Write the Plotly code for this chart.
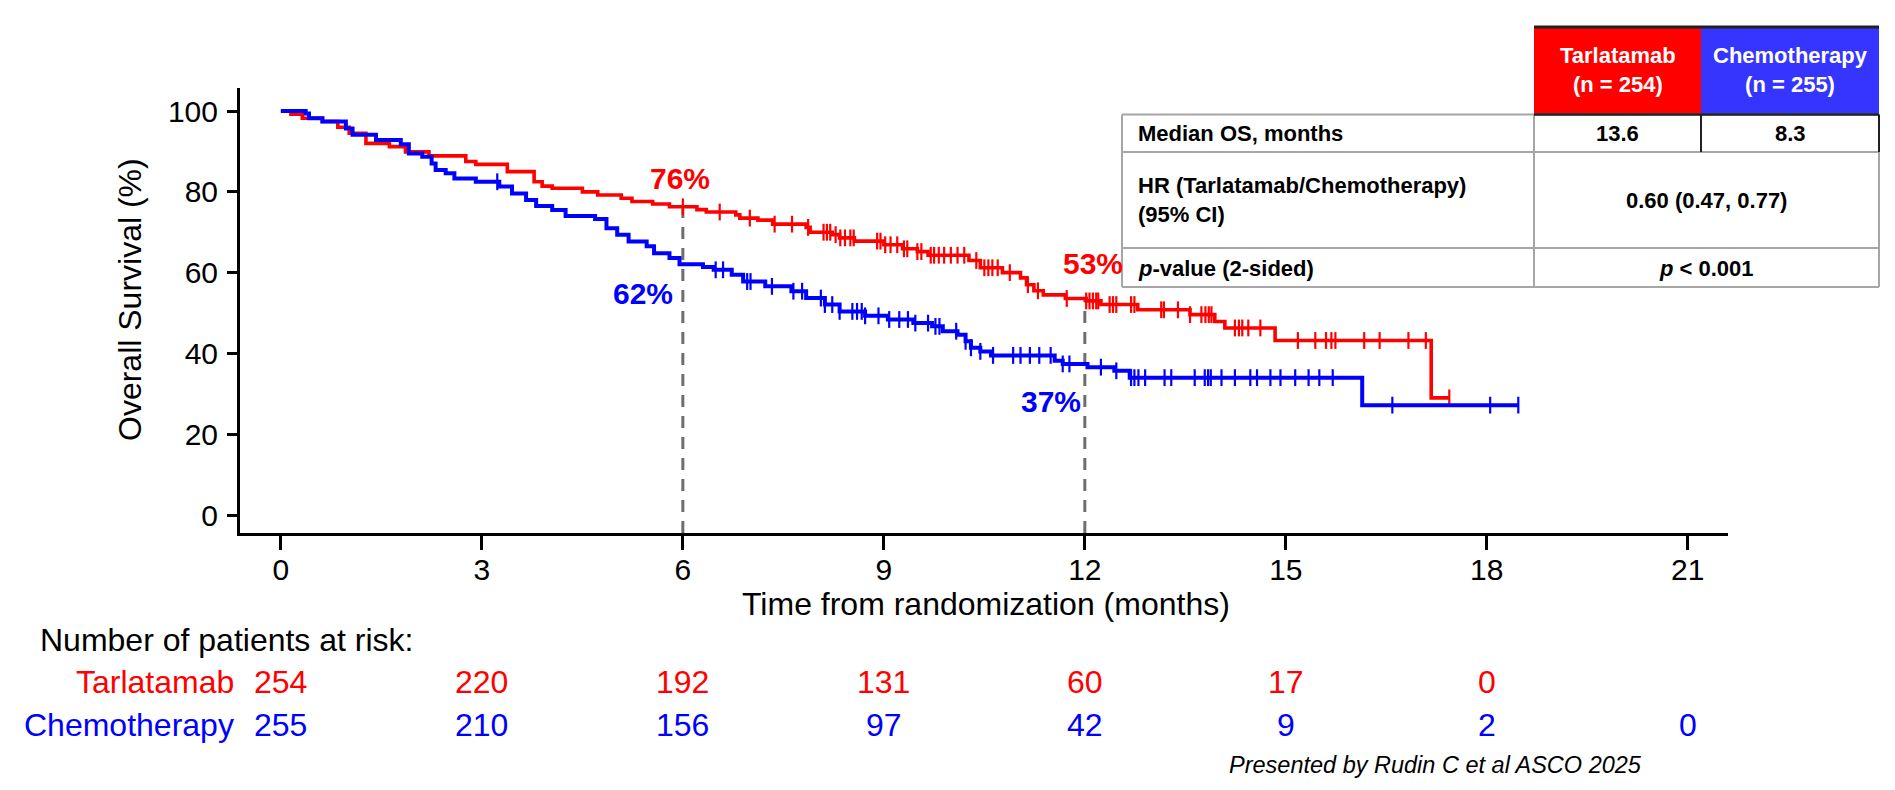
import plotly.graph_objects as go

# ---------------- data ----------------
tarla_t = [0, 0.15, 0.32, 0.62, 0.85, 1.02, 1.27, 1.62, 1.86, 2.21, 2.76, 2.91, 3.38, 3.78, 3.90,
           4.05, 4.50, 4.73, 5.08, 5.24, 5.55, 5.80, 6.21, 6.35, 6.79, 6.85, 7.12, 7.34, 7.84,
           7.90, 8.23, 8.34, 8.56, 9.00, 9.28, 9.50, 9.66, 10.27, 10.44, 10.77, 11.04, 11.13,
           11.24, 11.38, 11.71, 12.02, 12.24, 12.79, 13.57, 13.94, 14.09, 14.84, 17.17, 17.44]
tarla_s = [100, 99.2, 98.2, 97.4, 96.0, 94.5, 92.0, 91.2, 89.9, 88.9, 87.5, 86.8, 85.0, 82.5, 81.4,
           80.9, 80.0, 79.2, 78.4, 77.6, 77.0, 76.3, 75.6, 75.0, 74.3, 73.5, 73.0, 72.0, 71.2,
           70.0, 69.4, 68.6, 67.8, 66.9, 65.9, 65.2, 64.3, 63.0, 61.2, 60.0, 58.7, 57.0,
           55.5, 54.5, 53.6, 53.0, 52.1, 50.8, 49.6, 47.9, 46.3, 43.2, 29.0, 29.0]
tarla_cens = [6.0, 6.55, 7.0, 7.37, 7.63, 7.87, 8.1, 8.15, 8.2, 8.28, 8.35, 8.42, 8.5, 8.55, 8.9,
              8.95, 9.02, 9.1, 9.2, 9.3, 9.35, 9.5, 9.56, 9.7, 9.75, 9.82, 9.9, 10.0, 10.1, 10.2,
              10.38, 10.5, 10.56, 10.62, 10.7, 10.88, 11.15, 11.3, 11.73, 12.02, 12.07, 12.12,
              12.17, 12.2, 12.37, 12.42, 12.47, 12.69, 12.74, 13.14, 13.18, 13.39, 13.57, 13.74,
              13.8, 13.85, 13.89, 14.24, 14.3, 14.35, 14.44, 14.62, 15.18, 15.44, 15.6, 15.68,
              15.74, 16.17, 16.4, 16.83, 17.09, 17.44]

chemo_t = [0, 0.37, 0.42, 0.62, 0.97, 1.07, 1.42, 1.79, 1.91, 2.11, 2.25, 2.31, 2.46, 2.59, 2.91,
           3.26, 3.45, 3.66, 3.81, 4.05, 4.25, 4.69, 4.86, 5.02, 5.19, 5.46, 5.57, 5.80, 5.95,
           6.30, 6.46, 6.73, 6.90, 7.23, 7.62, 7.84, 8.12, 8.34, 8.72, 9.06, 9.44, 9.72, 9.88,
           10.10, 10.22, 10.30, 10.44, 10.60, 11.55, 11.67, 12.04, 12.44, 12.67, 16.14, 18.47]
chemo_s = [100, 99.4, 98.2, 97.4, 95.7, 94.1, 92.8, 91.8, 89.5, 88.7, 87.0, 85.4, 84.6, 83.3, 82.5,
           81.3, 79.6, 78.0, 76.5, 75.5, 74.0, 73.3, 71.0, 69.4, 67.7, 66.5, 64.8, 63.6, 62.1,
           61.4, 60.7, 59.5, 57.8, 56.6, 55.4, 53.7, 52.1, 50.4, 49.3, 48.4, 47.5, 46.7, 45.5,
           44.6, 43.0, 41.4, 40.5, 39.5, 38.2, 37.4, 36.6, 35.7, 34.0, 27.2, 27.2]
chemo_cens = [3.23, 6.49, 6.6, 6.96, 7.01, 7.33, 7.65, 7.78, 8.06, 8.12, 8.23, 8.34, 8.53, 8.6,
              8.67, 8.72, 8.92, 9.08, 9.23, 9.36, 9.47, 9.66, 9.77, 9.83, 10.08, 10.22, 10.3,
              10.44, 10.63, 10.93, 11.04, 11.18, 11.32, 11.49, 11.67, 11.77, 12.24, 12.47, 12.69,
              12.74, 12.8, 12.9, 13.19, 13.29, 13.64, 13.79, 13.84, 13.88, 14.04, 14.24, 14.47,
              14.57, 14.77, 14.92, 15.14, 15.34, 15.5, 15.7, 16.59, 18.05, 18.47]

x_ticks = [0, 3, 6, 9, 12, 15, 18, 21]
y_ticks = [0, 20, 40, 60, 80, 100]
risk_tarla = [254, 220, 192, 131, 60, 17, 0]
risk_chemo = [255, 210, 156, 97, 42, 9, 2, 0]
landmarks = [6, 12]
landmark_tarla = ["76%", "53%"]
landmark_chemo = ["62%", "37%"]

RED = "#FF0000"
BLUE = "#0000FF"
FONT = "Liberation Sans, Arial, sans-serif"

# ---------------- geometry (pixels) ----------------
W, H = 1895, 790
L, R, T, B = 240, 1728, 88, 533


def px(X):
    return (X - L) / (R - L)


def py(Y):
    return (B - Y) / (B - T)


def step_val(ts, ss, t):
    v = ss[0]
    for ti, si in zip(ts, ss):
        if ti <= t + 1e-9:
            v = si
    return v


fig = go.Figure()

# landmark dashed lines
for t in landmarks:
    fig.add_shape(type="line", xref="x", yref="y", x0=t, x1=t, y0=-4.45,
                  y1=step_val(tarla_t, tarla_s, t), layer="below",
                  line=dict(color="#6E6E6E", width=3, dash="12px,9px"))

for ts, ss, cens, col, w in [(tarla_t, tarla_s, tarla_cens, RED, 3.6),
                             (chemo_t, chemo_s, chemo_cens, BLUE, 4.0)]:
    fig.add_trace(go.Scatter(x=ts, y=ss, mode="lines", line=dict(color=col, width=w, shape="hv"),
                             showlegend=False, hoverinfo="skip"))
    fig.add_trace(go.Scatter(x=cens, y=[step_val(ts, ss, c) for c in cens], mode="markers",
                             marker=dict(symbol="line-ns", size=12,
                                         line=dict(color=col, width=2.2)),
                             showlegend=False, hoverinfo="skip"))

fig.update_xaxes(range=[-0.61, 21.6], tickvals=x_ticks, ticks="outside", ticklen=14, tickwidth=3,
                 tickcolor="black", showline=True, linewidth=3, linecolor="black",
                 showgrid=False, zeroline=False, ticklabelstandoff=-6,
                 tickfont=dict(family=FONT, size=30, color="black"))
fig.update_yaxes(range=[-4.45, 105.7], tickvals=y_ticks, ticks="outside", ticklen=10, tickwidth=3,
                 tickcolor="black", showline=True, linewidth=3, linecolor="black",
                 showgrid=False, zeroline=False, ticklabelstandoff=3,
                 tickfont=dict(family=FONT, size=30, color="black"))

ann = []


def text(X, Y, s, size, color="black", xanchor="center", yanchor="middle", **kw):
    ann.append(dict(x=px(X), y=py(Y), xref="paper", yref="paper", text=s, showarrow=False,
                    xanchor=xanchor, yanchor=yanchor,
                    font=dict(family=FONT, size=size, color=color), **kw))


# axis titles
text(130, 300, "Overall Survival (%)", 32, textangle=-90)
text(986, 604, "Time from randomization (months)", 32)

# landmark labels
lab_pos_t = [(680, 178), (1093, 263)]
lab_pos_c = [(643, 293), (1051, 401)]
for (X, Y), s in zip(lab_pos_t, landmark_tarla):
    text(X, Y, "<b>" + s + "</b>", 30, RED)
for (X, Y), s in zip(lab_pos_c, landmark_chemo):
    text(X, Y, "<b>" + s + "</b>", 30, BLUE)

# risk table
text(38, 640, "Number of patients at risk:", 32, xanchor="left")
text(236, 682, "Tarlatamab", 32, RED, xanchor="right")
text(236, 725, "Chemotherapy", 32, BLUE, xanchor="right")
for i, v in enumerate(risk_tarla):
    ann.append(dict(x=x_ticks[i], y=py(682), xref="x", yref="paper", text=str(v),
                    xanchor="center", yanchor="middle",
                    showarrow=False, font=dict(family=FONT, size=32, color=RED)))
for i, v in enumerate(risk_chemo):
    ann.append(dict(x=x_ticks[i], y=py(725), xref="x", yref="paper", text=str(v),
                    xanchor="center", yanchor="middle",
                    showarrow=False, font=dict(family=FONT, size=32, color=BLUE)))

text(1644, 765, "<i>Presented by Rudin C et al ASCO 2025</i>", 23.5, xanchor="right")

# ---------------- summary table ----------------
GRAY = "#A6A6A6"
tx0, tx1, tx2, tx3 = 1122, 1534, 1701, 1879
ty0, ty1, ty2, ty3, ty4 = 27, 114.5, 152, 248, 287


def rect(x0, y0, x1, y1, fill, lc=None, lw=0):
    fig.add_shape(type="rect", xref="paper", yref="paper", x0=px(x0), x1=px(x1),
                  y0=py(y0), y1=py(y1), fillcolor=fill, layer="above",
                  line=dict(color=lc if lc else fill, width=lw))


def hline(x0, x1, y, col, w=2):
    fig.add_shape(type="line", xref="paper", yref="paper", x0=px(x0), x1=px(x1), y0=py(y), y1=py(y),
                  layer="above", line=dict(color=col, width=w))


def vline(x, y0, y1, col, w=2):
    fig.add_shape(type="line", xref="paper", yref="paper", x0=px(x), x1=px(x), y0=py(y0), y1=py(y1),
                  layer="above", line=dict(color=col, width=w))


rect(tx0, ty1, tx3, ty4, "white")
rect(tx1, ty0, tx2, ty1, "#FF0000")
rect(tx2, ty0, tx3, ty1, "#3535FF")
hline(tx1, tx3, ty0, "#202020", 3)
for y in (ty1, ty2, ty3, ty4):
    hline(tx0, tx3, y, GRAY, 2)
vline(tx0, ty1, ty4, GRAY, 2)
vline(tx1, ty1, ty4, GRAY, 2)
vline(tx3, ty1, ty4, GRAY, 2)
hline(tx1, tx3, ty1, "#202020", 2.5)
vline(tx2, ty1, ty2, "#202020", 2)
vline(tx3, ty1, ty2, "#202020", 2)

TS = 22
text((tx1 + tx2) / 2, 70, "<b>Tarlatamab<br>(n = 254)</b>", TS, "white")
text((tx2 + tx3) / 2, 70, "<b>Chemotherapy<br>(n = 255)</b>", TS, "white")
text(1136, 133.5, "<b>Median OS, months</b>", TS, xanchor="left")
text((tx1 + tx2) / 2, 133.5, "<b>13.6</b>", TS)
text((tx2 + tx3) / 2, 133.5, "<b>8.3</b>", TS)
text(1136, 200, "<b>HR (Tarlatamab/Chemotherapy)<br>(95% CI)</b>", TS, xanchor="left", align="left")
text((tx1 + tx3) / 2, 200, "<b>0.60 (0.47, 0.77)</b>", TS)
text(1136, 268, "<b><i>p</i>-value (2-sided)</b>", TS, xanchor="left")
text((tx1 + tx3) / 2, 268, "<b><i>p</i> &lt; 0.001</b>", TS)

fig.update_layout(width=W, height=H, margin=dict(l=L, r=W - R, t=T, b=H - B),
                  paper_bgcolor="white", plot_bgcolor="white", annotations=ann,
                  font=dict(family=FONT))

fig.write_html("out.html")
